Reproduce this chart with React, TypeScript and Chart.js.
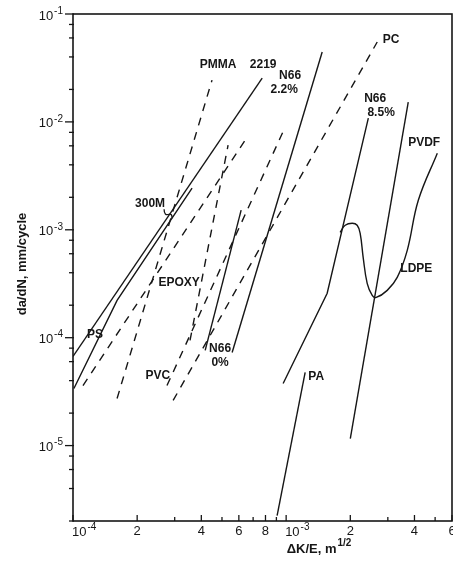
import React, { useEffect, useRef } from "react";
import { Chart, registerables } from "chart.js";
Chart.register(...registerables);

// Axis ranges
const xMin = 1e-4;
const xMax = 6e-3;
const yMin = 2e-6;
const yMax = 1e-1;

// Tick values
const xTickValues = [1e-4, 2e-4, 3e-4, 4e-4, 5e-4, 6e-4, 7e-4, 8e-4, 9e-4, 1e-3, 2e-3, 3e-3, 4e-3, 5e-3, 6e-3];
const xTickLabels = ["10|-4", "2", "", "4", "", "6", "", "8", "", "10|-3", "2", "", "4", "", "6"];
const yTickValues = [1e-1, 1e-2, 1e-3, 1e-4, 1e-5];
const yTickLabels = ["10|-1", "10|-2", "10|-3", "10|-4", "10|-5"];
const yMinorMultipliers = [2, 4, 6, 8];

// Series (ΔK/E in m^1/2, da/dN in mm/cycle)
const al2219X = [1.0e-4, 7.72e-4];
const al2219Y = [6.7e-5, 2.55e-2];
const s300mX = [1.01e-4, 1.61e-4, 3.62e-4];
const s300mY = [3.38e-5, 2.22e-4, 2.43e-3];
const n66w22X = [5.58e-4, 1.476e-3];
const n66w22Y = [7.3e-5, 4.44e-2];
const n66w0X = [4.17e-4, 6.15e-4];
const n66w0Y = [7.62e-5, 1.52e-3];
const n66w85X = [9.68e-4, 1.558e-3, 2.43e-3];
const n66w85Y = [3.76e-5, 2.58e-4, 1.083e-2];
const pvdfX = [2.0e-3, 3.74e-3];
const pvdfY = [1.16e-5, 1.525e-2];
const ldpeX = [1.792e-3, 1.892e-3, 2.042e-3, 2.154e-3, 2.225e-3, 2.298e-3, 2.4e-3, 2.534e-3, 2.646e-3, 2.98e-3, 3.32e-3, 3.7e-3, 4.17e-3, 5.12e-3];
const ldpeY = [9.48e-4, 1.101e-3, 1.149e-3, 1.101e-3, 9.28e-4, 5.56e-4, 3.19e-4, 2.47e-4, 2.36e-4, 2.745e-4, 3.62e-4, 6.45e-4, 1.878e-3, 5.13e-3];
const paX = [9.07e-4, 1.228e-3];
const paY = [2.24e-6, 4.76e-5];
const pmmaX = [1.61e-4, 4.49e-4];
const pmmaY = [2.73e-5, 2.44e-2];
const psX = [1.114e-4, 6.56e-4];
const psY = [3.6e-5, 7.22e-3];
const pcX = [2.95e-4, 2.675e-3];
const pcY = [2.62e-5, 5.5e-2];
const pvcX = [2.76e-4, 9.89e-4];
const pvcY = [3.6e-5, 8.94e-3];
const epoxyX = [3.54e-4, 5.34e-4];
const epoxyY = [9.43e-5, 6.08e-3];

const seriesList = [
  { name: "2219", xs: al2219X, ys: al2219Y, dashed: false, smooth: false },
  { name: "300M", xs: s300mX, ys: s300mY, dashed: false, smooth: false },
  { name: "N66 2.2%", xs: n66w22X, ys: n66w22Y, dashed: false, smooth: false },
  { name: "N66 0%", xs: n66w0X, ys: n66w0Y, dashed: false, smooth: false },
  { name: "N66 8.5%", xs: n66w85X, ys: n66w85Y, dashed: false, smooth: false },
  { name: "PVDF", xs: pvdfX, ys: pvdfY, dashed: false, smooth: false },
  { name: "LDPE", xs: ldpeX, ys: ldpeY, dashed: false, smooth: true },
  { name: "PA", xs: paX, ys: paY, dashed: false, smooth: false },
  { name: "PMMA", xs: pmmaX, ys: pmmaY, dashed: true, smooth: false },
  { name: "PS", xs: psX, ys: psY, dashed: true, smooth: false },
  { name: "PC", xs: pcX, ys: pcY, dashed: true, smooth: false },
  { name: "PVC", xs: pvcX, ys: pvcY, dashed: true, smooth: false },
  { name: "EPOXY", xs: epoxyX, ys: epoxyY, dashed: true, smooth: false },
];

// Curve labels
const noteText = ["PMMA", "2219", "N66", "2.2%", "PC", "N66", "8.5%", "PVDF", "LDPE", "PA", "300M", "PS", "EPOXY", "N66", "0%", "PVC"];
const noteX = [4.8e-4, 7.8e-4, 1.044e-3, 9.79e-4, 3.11e-3, 2.617e-3, 2.79e-3, 4.44e-3, 4.08e-3, 1.383e-3, 2.3e-4, 1.269e-4, 3.146e-4, 4.9e-4, 4.9e-4, 2.5e-4];
const noteY = [3.36e-2, 3.36e-2, 2.66e-2, 1.97e-2, 5.74e-2, 1.626e-2, 1.206e-2, 6.35e-3, 4.39e-4, 4.37e-5, 1.762e-3, 1.072e-4, 3.26e-4, 7.95e-5, 5.89e-5, 4.46e-5];

const INK = "#161616";
const FONT = "'Liberation Sans', Arial, sans-serif";

function drawPow(ctx: CanvasRenderingContext2D, label: string, x: number, y: number, align: "left" | "right" | "center") {
  const [base, sup] = label.split("|");
  ctx.font = `13px ${FONT}`;
  const wb = ctx.measureText(base).width;
  let wsup = 0;
  if (sup) {
    ctx.font = `10px ${FONT}`;
    wsup = ctx.measureText(sup).width + 1;
  }
  const total = wb + wsup;
  let left = x;
  if (align === "right") left = x - total;
  if (align === "center") left = x - total / 2;
  ctx.textAlign = "left";
  ctx.textBaseline = "middle";
  ctx.font = `13px ${FONT}`;
  ctx.fillText(base, left, y);
  if (sup) {
    ctx.font = `10px ${FONT}`;
    ctx.fillText(sup, left + wb + 1, y - 5);
  }
}

const decor = {
  id: "decor",
  afterDatasetsDraw(chart: any) {
    const { ctx, chartArea: a, scales } = chart;
    const xs = scales.x;
    const ys = scales.y;
    ctx.save();
    ctx.strokeStyle = INK;
    ctx.fillStyle = INK;
    ctx.lineWidth = 1.6;
    ctx.setLineDash([]);
    ctx.strokeRect(a.left, a.top, a.right - a.left, a.bottom - a.top);

    // x ticks (inward) and labels
    ctx.lineWidth = 1.3;
    xTickValues.forEach((v, i) => {
      const px = xs.getPixelForValue(v);
      const lab = xTickLabels[i];
      ctx.beginPath();
      ctx.moveTo(px, a.bottom);
      ctx.lineTo(px, a.bottom - (lab ? 6 : 4));
      ctx.stroke();
      if (lab) {
        if (lab.includes("|")) drawPow(ctx, lab, px - 1, a.bottom + 11, "left");
        else drawPow(ctx, lab, px, a.bottom + 10, "center");
      }
    });

    // y ticks and labels
    yTickValues.forEach((v, i) => {
      const py = ys.getPixelForValue(v);
      ctx.beginPath();
      ctx.moveTo(a.left - 8, py);
      ctx.lineTo(a.left + 1, py);
      ctx.stroke();
      drawPow(ctx, yTickLabels[i], a.left - 10, py + 2, "right");
      yMinorMultipliers.forEach((m) => {
        const mv = v * m;
        if (mv > yMax || mv < yMin) return;
        const mp = ys.getPixelForValue(mv);
        ctx.beginPath();
        ctx.moveTo(a.left - 4, mp);
        ctx.lineTo(a.left + 1, mp);
        ctx.stroke();
      });
    });
    yMinorMultipliers.forEach((m) => {
      const mv = 1e-6 * m;
      if (mv < yMin) return;
      const mp = ys.getPixelForValue(mv);
      ctx.beginPath();
      ctx.moveTo(a.left - 4, mp);
      ctx.lineTo(a.left + 1, mp);
      ctx.stroke();
    });

    // Axis titles
    ctx.font = `bold 13px ${FONT}`;
    ctx.textAlign = "left";
    ctx.textBaseline = "middle";
    const t1 = "ΔK/E, m";
    const w1 = ctx.measureText(t1).width;
    ctx.font = `bold 10px ${FONT}`;
    const sup = "1/2";
    const w2 = ctx.measureText(sup).width;
    const cx = 319;
    const start = cx - (w1 + w2 + 1) / 2;
    ctx.font = `bold 13px ${FONT}`;
    ctx.fillText(t1, start, 549);
    ctx.font = `bold 10px ${FONT}`;
    ctx.fillText(sup, start + w1 + 1, 543);

    ctx.save();
    ctx.translate(22, 264);
    ctx.rotate(-Math.PI / 2);
    ctx.font = `bold 13px ${FONT}`;
    ctx.textAlign = "center";
    ctx.fillText("da/dN, mm/cycle", 0, 0);
    ctx.restore();

    // Curve labels
    ctx.font = `bold 12px ${FONT}`;
    ctx.textAlign = "center";
    ctx.textBaseline = "middle";
    noteText.forEach((t, i) => {
      const lx = xs.getPixelForValue(noteX[i]);
      const ly = ys.getPixelForValue(noteY[i]);
      ctx.fillText(t, lx, ly);
      if (t === "300M") {
        // small curled leader from the label to its line
        ctx.lineWidth = 1.3;
        ctx.beginPath();
        ctx.moveTo(lx + 14, ly + 6);
        ctx.quadraticCurveTo(lx + 14, ly + 13, lx + 19, ly + 11);
        ctx.quadraticCurveTo(lx + 22, ly + 10, lx + 22, ly + 15);
        ctx.stroke();
      }
    });
    ctx.restore();
  },
};

export default function App() {
  const ref = useRef<HTMLCanvasElement | null>(null);
  useEffect(() => {
    if (!ref.current) return;
    const chart = new Chart(ref.current, {
      type: "scatter",
      data: {
        datasets: seriesList.map((s) => ({
          label: s.name,
          data: s.xs.map((x, i) => ({ x, y: s.ys[i] })),
          showLine: true,
          borderColor: INK,
          backgroundColor: INK,
          borderWidth: 1.4,
          borderDash: s.dashed ? [8, 7] : [],
          pointRadius: 0,
          tension: s.smooth ? 0.4 : 0,
          fill: false,
        })),
      },
      options: {
        animation: false,
        responsive: false,
        layout: { padding: { left: 73, right: 1, top: 14, bottom: 45 } },
        scales: {
          x: { type: "logarithmic", min: xMin, max: xMax, display: false },
          y: { type: "logarithmic", min: yMin, max: yMax, display: false },
        },
        plugins: { legend: { display: false }, tooltip: { enabled: false } },
      },
      plugins: [decor],
    } as any);
    return () => chart.destroy();
  }, []);
  return (
    <div style={{ position: "absolute", left: 0, top: 0, width: 453, height: 566, background: "#fff" }}>
      <canvas ref={ref} width={453} height={566} style={{ display: "block" }} />
    </div>
  );
}
